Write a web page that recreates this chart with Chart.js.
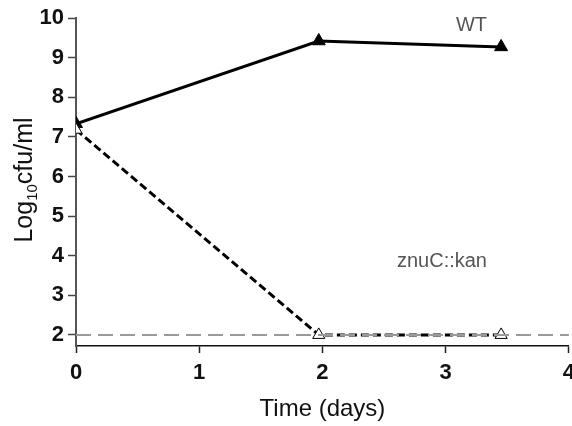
<!DOCTYPE html>
<html>
<head>
<meta charset="utf-8">
<script src="https://cdn.jsdelivr.net/npm/chart.js@4/dist/chart.umd.min.js"></script>
<style>
  html, body { margin: 0; padding: 0; background: #fff; overflow: hidden; }
  #wrap { width: 572px; height: 426px; position: relative; overflow: hidden; }
</style>
</head>
<body>
<!-- canvas is a little wider than the frame so the last x label runs off the edge -->
<div id="wrap"><canvas id="c" width="582" height="426"></canvas></div>
<script>
// survival data, days vs log10 cfu/ml
const wtDays = [0, 1.97, 3.45];
const wtLog = [7.33, 9.42, 9.27];
const znuDays = [0, 1.97, 3.45];
const znuLog = [7.18, 2.0, 2.0];
const detectionLimit = 2;
const xTicks = [0, 1, 2, 3, 4];
const yTicks = [2, 3, 4, 5, 6, 7, 8, 9, 10];
const seriesLabels = [
  { text: 'WT', x: 3.21, y: 9.8 },
  { text: 'znuC::kan', x: 2.97, y: 3.86 }
];

const pts = (xs, ys) => xs.map((x, i) => ({ x, y: ys[i] }));
const FONT = '"Liberation Sans", Arial, sans-serif';

const labelsPlugin = {
  id: 'labels',
  afterDraw(chart) {
    const { ctx, chartArea, scales } = chart;
    ctx.save();
    // series names
    ctx.fillStyle = '#555';
    ctx.font = '20px ' + FONT;
    ctx.textAlign = 'center';
    ctx.textBaseline = 'middle';
    seriesLabels.forEach(l => ctx.fillText(l.text, scales.x.getPixelForValue(l.x), scales.y.getPixelForValue(l.y)));

    // x title
    ctx.fillStyle = '#111';
    ctx.font = '24px ' + FONT;
    ctx.fillText('Time (days)', (chartArea.left + chartArea.right) / 2, chartArea.bottom + 63);

    // y title with subscript
    ctx.translate(23, (chartArea.top + chartArea.bottom) / 2 - 2);
    ctx.rotate(-Math.PI / 2);
    const big = '25px ' + FONT;
    const small = '15px ' + FONT;
    ctx.font = big; const w1 = ctx.measureText('Log').width;
    ctx.font = small; const w2 = ctx.measureText('10').width;
    ctx.font = big; const w3 = ctx.measureText('cfu/ml').width;
    let x = -(w1 + w2 + w3) / 2;
    ctx.textAlign = 'left';
    ctx.textBaseline = 'alphabetic';
    ctx.font = big; ctx.fillText('Log', x, 9); x += w1;
    ctx.font = small; ctx.fillText('10', x, 14); x += w2;
    ctx.font = big; ctx.fillText('cfu/ml', x, 9);
    ctx.restore();
  }
};

new Chart(document.getElementById('c'), {
  type: 'scatter',
  data: {
    datasets: [
      { data: [{ x: 0, y: detectionLimit }, { x: 4, y: detectionLimit }], showLine: true, borderColor: '#9a9a9a', borderWidth: 2, borderDash: [15, 7], pointRadius: 0 },
      { data: pts(znuDays, znuLog), showLine: true, borderColor: '#000', borderWidth: 3, borderDash: [8, 4], pointStyle: 'triangle', pointRadius: 7, pointBackgroundColor: '#fff', pointBorderColor: '#000', pointBorderWidth: 1 },
      { data: pts(wtDays, wtLog), showLine: true, borderColor: '#000', borderWidth: 3, pointStyle: 'triangle', pointRadius: 7.5, pointBackgroundColor: '#000', pointBorderColor: '#000', pointBorderWidth: 1 }
    ]
  },
  options: {
    responsive: false, animation: false,
    layout: { padding: { top: 18, right: 0, left: 0, bottom: 0 } },
    plugins: { legend: { display: false }, tooltip: { enabled: false } },
    scales: {
      x: {
        type: 'linear', min: 0, max: 4,
        afterBuildTicks: s => { s.ticks = xTicks.map(v => ({ value: v })); },
        afterFit: s => { s.height = 80; },
        grid: { drawOnChartArea: false, drawTicks: true, tickLength: 7, tickColor: '#222', tickWidth: 1.5 },
        border: { display: true, color: '#111', width: 1.5 },
        ticks: { color: '#111', padding: 7, font: { family: FONT, size: 22, weight: 'bold' } }
      },
      y: {
        min: 1.72, max: 10,
        afterBuildTicks: s => { s.ticks = yTicks.map(v => ({ value: v })); },
        afterFit: s => { s.width = 76; },
        grid: { drawOnChartArea: false, drawTicks: true, tickLength: 8, tickColor: '#444', tickWidth: 1.5 },
        border: { display: true, color: '#555', width: 2 },
        ticks: { color: '#111', padding: 4, font: { family: FONT, size: 22, weight: 'bold' } }
      }
    }
  },
  plugins: [labelsPlugin]
});
</script>
</body>
</html>
